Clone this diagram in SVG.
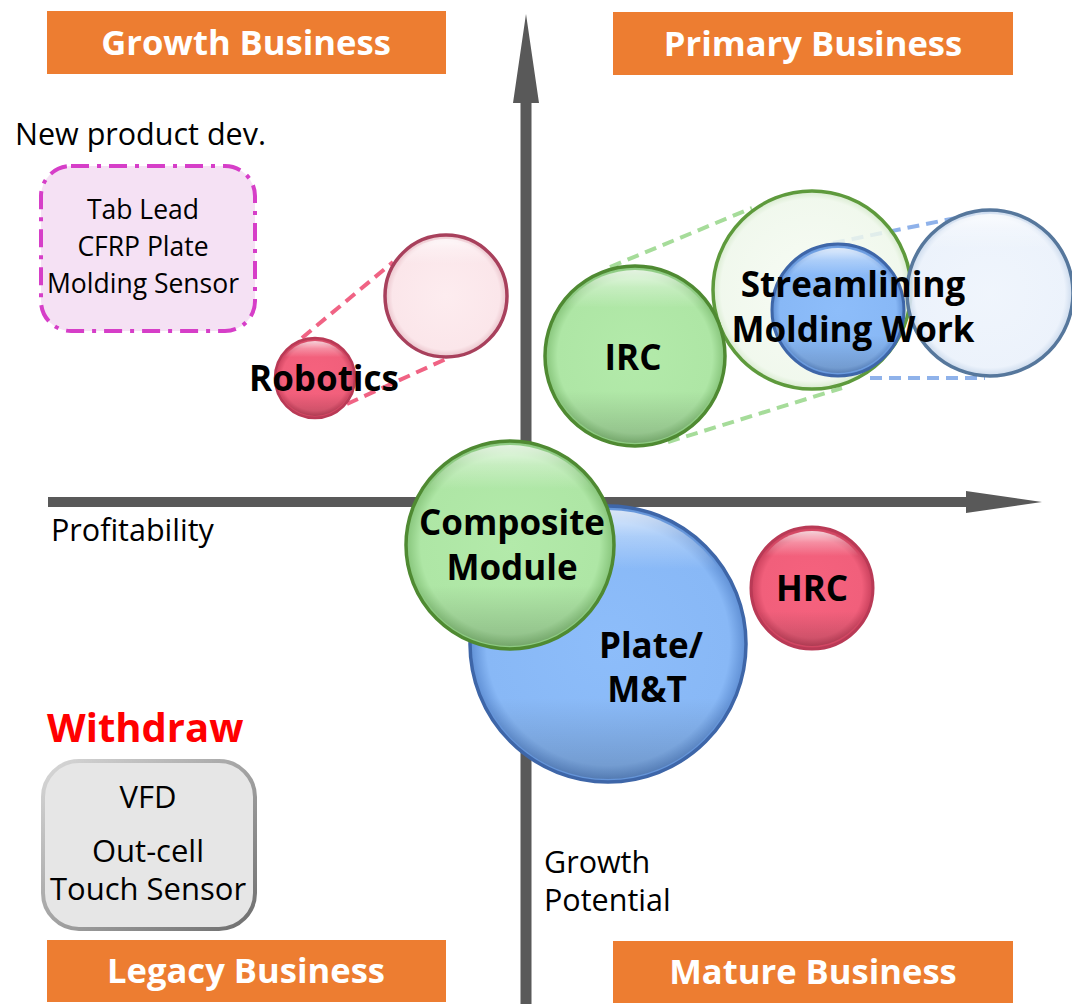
<svg xmlns="http://www.w3.org/2000/svg" width="1072" height="1004" viewBox="0 0 1072 1004">
  <style>
    .band { fill: #ed7d31; }
    .band-text { font-family: "Open Sans", "Noto Sans", sans-serif; font-weight: 700; font-size: 34.6px; fill: #ffffff; text-anchor: middle; }
    .note { font-family: "Open Sans", "Noto Sans", sans-serif; font-size: 30.5px; fill: #000000; }
    .note-c { font-family: "Open Sans", "Noto Sans", sans-serif; font-size: 26.5px; fill: #000000; text-anchor: middle; }
    .note-big { font-size: 31px; }
    .label { font-family: "Open Sans", "Noto Sans", sans-serif; font-weight: 700; font-size: 35px; fill: #000000; text-anchor: middle; }
    .axis { fill: #595959; }
    .dash { fill: none; stroke-width: 4; stroke-dasharray: 12 7; }
  </style>
  <defs>
    <radialGradient id="fillGreen" cx="50%" cy="50%" r="50%">
      <stop offset="0" stop-color="#b3eaaa"/>
      <stop offset="0.86" stop-color="#aee6a5"/>
      <stop offset="1" stop-color="#86c47a"/>
    </radialGradient>
    <radialGradient id="fillBlue" cx="50%" cy="50%" r="50%">
      <stop offset="0" stop-color="#8dbdfa"/>
      <stop offset="0.88" stop-color="#88b8f6"/>
      <stop offset="1" stop-color="#5f8fd4"/>
    </radialGradient>
    <radialGradient id="fillPink" cx="50%" cy="50%" r="50%">
      <stop offset="0" stop-color="#f6627e"/>
      <stop offset="0.82" stop-color="#f15f7b"/>
      <stop offset="1" stop-color="#c9405c"/>
    </radialGradient>
    <radialGradient id="fillPaleGreen" cx="50%" cy="50%" r="50%">
      <stop offset="0" stop-color="#f6fbf3" stop-opacity="0.85"/>
      <stop offset="0.92" stop-color="#eef7ea" stop-opacity="0.85"/>
      <stop offset="1" stop-color="#d2e8c8" stop-opacity="0.9"/>
    </radialGradient>
    <radialGradient id="fillPaleBlue" cx="50%" cy="50%" r="50%">
      <stop offset="0" stop-color="#eef4fc" stop-opacity="0.9"/>
      <stop offset="0.9" stop-color="#eaf1fb" stop-opacity="0.9"/>
      <stop offset="1" stop-color="#c6d6ea" stop-opacity="0.95"/>
    </radialGradient>
    <radialGradient id="fillPalePink" cx="50%" cy="50%" r="50%">
      <stop offset="0" stop-color="#fdecef"/>
      <stop offset="0.88" stop-color="#fbe6ea"/>
      <stop offset="1" stop-color="#e9c2ca"/>
    </radialGradient>
    <!-- top gloss and lower shade shared by all bubbles -->
    <linearGradient id="gloss" x1="0" y1="0" x2="0" y2="1">
      <stop offset="0" stop-color="#ffffff" stop-opacity="0.75"/>
      <stop offset="0.1" stop-color="#ffffff" stop-opacity="0.3"/>
      <stop offset="0.22" stop-color="#ffffff" stop-opacity="0"/>
    </linearGradient>
    <linearGradient id="shade" x1="0" y1="0" x2="0" y2="1">
      <stop offset="0.7" stop-color="#000000" stop-opacity="0"/>
      <stop offset="1" stop-color="#000000" stop-opacity="0.18"/>
    </linearGradient>
    <linearGradient id="bevel" x1="0" y1="0" x2="1" y2="1">
      <stop offset="0" stop-color="#d8d8d8"/>
      <stop offset="1" stop-color="#6e6e6e"/>
    </linearGradient>
  </defs>

  <rect width="1072" height="1004" fill="#ffffff"/>

  <!-- quadrant bands -->
  <g id="band-growth">
    <rect class="band" x="47" y="11" width="399" height="63"/>
    <text class="band-text" x="246" y="55">Growth Business</text>
  </g>
  <g id="band-primary">
    <rect class="band" x="613" y="12" width="400" height="63"/>
    <text class="band-text" x="813" y="56">Primary Business</text>
  </g>
  <g id="band-legacy">
    <rect class="band" x="47" y="940" width="399" height="62"/>
    <text class="band-text" x="246" y="983">Legacy Business</text>
  </g>
  <g id="band-mature">
    <rect class="band" x="613" y="941" width="400" height="62"/>
    <text class="band-text" x="813" y="984">Mature Business</text>
  </g>

  <!-- axes -->
  <g id="axes">
    <path class="axis" d="M520.5,1004 V103 H513 L526,14 L539,103 H531.5 V1004 Z"/>
    <path class="axis" d="M48,497 H966 V491 L1042,502 L966,513 V507 H48 Z"/>
    <text class="note" x="51" y="541">Profitability</text>
    <text class="note" x="544" y="873">Growth</text>
    <text class="note" x="544" y="911">Potential</text>
  </g>

  <!-- projection lines between current and target bubbles -->
  <g id="connectors">
    <path class="dash" stroke="#f06384" d="M302,338 L393,262 M347,404 L446,359"/>
    <path class="dash" stroke="#a6dc9a" d="M610,267 L752,208 M668,442 L842,388"/>
    <path class="dash" stroke="#8fb2ea" d="M833,243 L990,211 M870,378 L985,378"/>
  </g>

  <!-- new product development box -->
  <g id="new-product">
    <text class="note" x="15" y="145">New product dev.</text>
    <rect x="41" y="166" width="214" height="165" rx="30" fill="#f5e1f4" stroke="#d63ec8" stroke-width="4" stroke-dasharray="18 8 4 8"/>
    <text class="note-c" x="143" y="219">Tab Lead</text>
    <text class="note-c" x="143" y="256">CFRP Plate</text>
    <text class="note-c" x="143" y="293">Molding Sensor</text>
  </g>

  <!-- withdraw box -->
  <g id="withdraw">
    <text x="47" y="742" font-family="Open Sans, Noto Sans, sans-serif" font-weight="700" font-size="40" fill="#ff0000">Withdraw</text>
    <rect x="43" y="761" width="212" height="168" rx="36" fill="#e6e6e6" stroke="url(#bevel)" stroke-width="4"/>
    <text class="note-c note-big" x="148" y="808">VFD</text>
    <text class="note-c note-big" x="148" y="862">Out-cell</text>
    <text class="note-c note-big" x="148" y="900">Touch Sensor</text>
  </g>

  <!-- robotics: current and target -->
  <g id="robotics-target">
    <circle cx="446" cy="296" r="61" fill="url(#fillPalePink)" stroke="#a8405c" stroke-width="3.5"/>
    <circle cx="446" cy="296" r="57" fill="url(#gloss)"/>
  </g>
  <g id="robotics">
    <circle cx="315" cy="378" r="40" fill="url(#fillPink)" stroke="#b93a56" stroke-width="2.5"/>
    <circle cx="315" cy="378" r="37" fill="url(#gloss)"/>
    <circle cx="315" cy="378" r="38" fill="url(#shade)"/>
    <text class="label" x="324" y="391">Robotics</text>
  </g>

  <!-- streamlining molding work: target rings -->
  <g id="molding-green-target">
    <circle cx="812" cy="290" r="99" fill="url(#fillPaleGreen)" stroke="#5e9a3c" stroke-width="3.5"/>
  </g>
  <g id="molding-blue-target">
    <circle cx="990" cy="293" r="83" fill="url(#fillPaleBlue)" stroke="#56779c" stroke-width="3.5"/>
    <circle cx="990" cy="293" r="79" fill="url(#gloss)"/>
  </g>
  <g id="molding-blue">
    <circle cx="838" cy="310" r="66" fill="url(#fillBlue)" stroke="#3e66a8" stroke-width="3"/>
    <circle cx="838" cy="310" r="62" fill="url(#gloss)"/>
    <circle cx="838" cy="310" r="63" fill="url(#shade)"/>
  </g>

  <g id="irc">
    <circle cx="635" cy="356" r="90" fill="url(#fillGreen)" stroke="#4f8a32" stroke-width="3.5"/>
    <circle cx="635" cy="356" r="86" fill="url(#gloss)"/>
    <circle cx="635" cy="356" r="87" fill="url(#shade)"/>
    <text class="label" x="633" y="370">IRC</text>
  </g>

  <g id="molding-label">
    <text class="label" x="853" y="297">Streamlining</text>
    <text class="label" x="853" y="342">Molding Work</text>
  </g>

  <g id="plate-mt">
    <circle cx="608" cy="644" r="138" fill="url(#fillBlue)" stroke="#3e66a8" stroke-width="3.5"/>
    <circle cx="608" cy="644" r="134" fill="url(#gloss)"/>
    <circle cx="608" cy="644" r="135" fill="url(#shade)"/>
    <text class="label" x="651" y="658">Plate/</text>
    <text class="label" x="647" y="702">M&amp;T</text>
  </g>

  <g id="composite-module">
    <circle cx="510" cy="545" r="104" fill="url(#fillGreen)" stroke="#4f8a32" stroke-width="3.5"/>
    <circle cx="510" cy="545" r="100" fill="url(#gloss)"/>
    <circle cx="510" cy="545" r="101" fill="url(#shade)"/>
    <text class="label" x="512" y="535">Composite</text>
    <text class="label" x="512" y="580">Module</text>
  </g>

  <g id="hrc">
    <circle cx="812" cy="588" r="61" fill="url(#fillPink)" stroke="#b93a56" stroke-width="3"/>
    <circle cx="812" cy="588" r="57" fill="url(#gloss)"/>
    <circle cx="812" cy="588" r="58" fill="url(#shade)"/>
    <text class="label" x="812" y="601">HRC</text>
  </g>
</svg>
